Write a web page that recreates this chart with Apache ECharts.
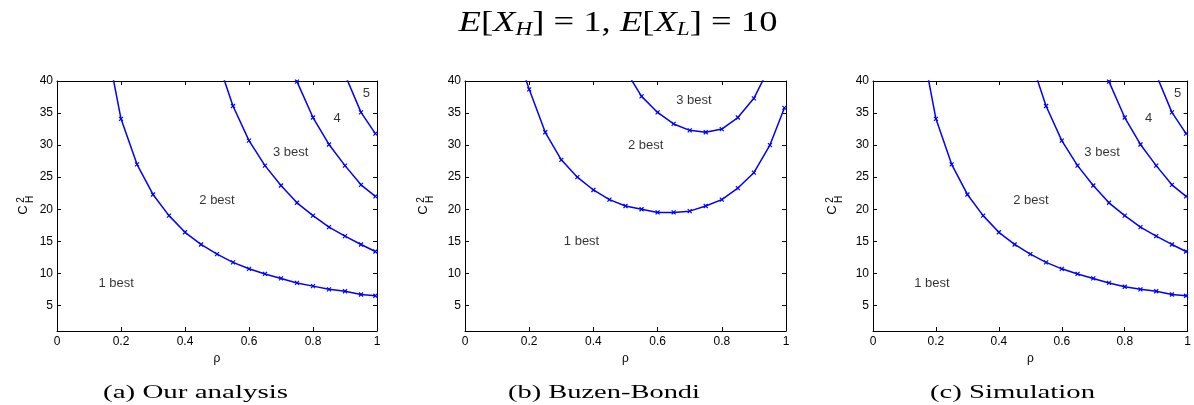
<!DOCTYPE html>
<html>
<head>
<meta charset="utf-8">
<script src="https://cdn.jsdelivr.net/npm/echarts@6/dist/echarts.min.js"></script>
<style>
  html, body { margin: 0; background: #fff; }
  #chart { width: 1194px; height: 405px; }
</style>
</head>
<body>
<div id="chart"></div>
<script>
// x ticks 0..1 step 0.2, y ticks at 5..40 (axis starts at 1)
const yTicks = [5, 10, 15, 20, 25, 30, 35, 40];

// (a) Our analysis: region boundaries (rho, C_H^2)
const aRho12 = [0.15, 0.2, 0.25, 0.3, 0.35, 0.4, 0.45, 0.5, 0.55, 0.6, 0.65, 0.7, 0.75, 0.8, 0.85, 0.9, 0.95, 0.995];
const aC12 = [47, 34.1, 27.0, 22.3, 19.0, 16.4, 14.5, 13.0, 11.7, 10.7, 9.9, 9.2, 8.5, 8.0, 7.5, 7.2, 6.7, 6.5];
const aRho23 = [0.5, 0.55, 0.6, 0.65, 0.7, 0.75, 0.8, 0.85, 0.9, 0.95, 0.995];
const aC23 = [43.5, 36.1, 30.7, 26.8, 23.7, 21.0, 19.0, 17.2, 15.8, 14.5, 13.4];
const aRho34 = [0.7, 0.75, 0.8, 0.85, 0.9, 0.95, 0.995];
const aC34 = [48, 39.9, 34.3, 30.1, 26.8, 23.8, 22.0];
const aRho45 = [0.9, 0.95, 0.995];
const aC45 = [41, 35.1, 31.8];
const aLabels = [['1 best', 0.185, 8.5], ['2 best', 0.50, 21.4], ['3 best', 0.73, 28.8], ['4', 0.875, 34.1], ['5', 0.967, 38.0]];

// (b) Buzen-Bondi
const bRho12 = [0.15, 0.2, 0.25, 0.3, 0.35, 0.4, 0.45, 0.5, 0.55, 0.6, 0.65, 0.7, 0.75, 0.8, 0.85, 0.9, 0.95, 0.995];
const bC12 = [46, 38.7, 32.0, 27.7, 25.0, 23.0, 21.5, 20.5, 20.0, 19.5, 19.5, 19.7, 20.5, 21.5, 23.3, 25.7, 30.0, 35.8];
const bRho23 = [0.5, 0.55, 0.6, 0.65, 0.7, 0.75, 0.8, 0.85, 0.9, 0.95];
const bC23 = [41.7, 37.6, 35.1, 33.3, 32.3, 32.0, 32.5, 34.3, 37.3, 42.3];
const bLabels = [['1 best', 0.363, 14.9], ['2 best', 0.563, 29.9], ['3 best', 0.713, 37.0]];

// (c) Simulation
const cRho12 = [0.15, 0.2, 0.25, 0.3, 0.35, 0.4, 0.45, 0.5, 0.55, 0.6, 0.65, 0.7, 0.75, 0.8, 0.85, 0.9, 0.95, 0.995];
const cC12 = [47, 34.1, 27.0, 22.3, 19.0, 16.4, 14.5, 13.0, 11.7, 10.7, 9.9, 9.2, 8.5, 7.9, 7.5, 7.2, 6.7, 6.5];
const cRho23 = [0.5, 0.55, 0.6, 0.65, 0.7, 0.75, 0.8, 0.85, 0.9, 0.95, 0.995];
const cC23 = [43.5, 36.1, 30.7, 26.8, 23.7, 21.0, 19.0, 17.2, 15.8, 14.5, 13.4];
const cRho34 = [0.7, 0.75, 0.8, 0.85, 0.9, 0.95, 0.995];
const cC34 = [48, 39.9, 34.3, 30.1, 26.8, 23.8, 22.0];
const cRho45 = [0.9, 0.95, 0.995];
const cC45 = [41, 35.1, 31.8];
const cLabels = [['1 best', 0.187, 8.5], ['2 best', 0.502, 21.4], ['3 best', 0.728, 28.8], ['4', 0.876, 34.1], ['5', 0.968, 38.0]];

const captions = ['(a) Our analysis', '(b) Buzen-Bondi', '(c) Simulation'];

const sans = '"Liberation Sans", Arial, sans-serif';
const serif = '"Liberation Serif", "Times New Roman", serif';
const blue = '#0000ff';

function textWidth(str, font) {
    const ctx = document.createElement('canvas').getContext('2d');
    ctx.font = font;
    return ctx.measureText(str).width;
}

function zip(xs, ys) {
    return xs.map((x, k) => [x, ys[k]]);
}

const option = {
    animation: false,
    backgroundColor: '#fff',
    grid: [],
    xAxis: [],
    yAxis: [],
    series: [],
    graphic: []
};

function addPanel(i, left, width, curves, labels) {
    option.grid.push({ left: left, top: 81, width: width, height: 250 });
    const tick = { show: true, inside: true, length: 4, lineStyle: { color: '#000', width: 1 } };
    const line = { show: true, onZero: false, lineStyle: { color: '#000', width: 1 } };
    option.xAxis.push({
        type: 'value', gridIndex: i, min: 0, max: 1, interval: 0.2, position: 'bottom',
        axisLine: line, axisTick: tick, splitLine: { show: false },
        axisLabel: { color: '#000', fontFamily: sans, fontSize: 12, margin: 5 },
        name: 'ρ', nameLocation: 'middle', nameGap: 16,
        nameTextStyle: { color: '#000', fontFamily: sans, fontSize: 12 }
    });
    option.xAxis.push({
        type: 'value', gridIndex: i, min: 0, max: 1, interval: 0.2, position: 'top',
        axisLine: line, axisTick: tick, splitLine: { show: false }, axisLabel: { show: false }
    });
    option.yAxis.push({
        type: 'value', gridIndex: i, min: 1, max: 40, position: 'left',
        axisLine: line, axisTick: Object.assign({}, tick, { customValues: yTicks }),
        splitLine: { show: false },
        axisLabel: { color: '#000', fontFamily: sans, fontSize: 12, margin: 4, customValues: yTicks }
    });
    option.yAxis.push({
        type: 'value', gridIndex: i, min: 1, max: 40, position: 'right',
        axisLine: line, axisTick: Object.assign({}, tick, { customValues: yTicks }),
        splitLine: { show: false }, axisLabel: { show: false }
    });
    curves.forEach(c => {
        option.series.push({
            type: 'line', xAxisIndex: 2 * i, yAxisIndex: 2 * i,
            data: zip(c[0], c[1]), clip: true, showAllSymbol: true,
            symbol: 'path://M0,0L10,10M10,0L0,10', symbolSize: 4,
            lineStyle: { color: blue, width: 1.5 },
            itemStyle: { color: blue, borderColor: blue, borderWidth: 1.2 },
            silent: true
        });
    });
    option.series.push({
        type: 'scatter', xAxisIndex: 2 * i, yAxisIndex: 2 * i,
        data: labels.map(l => ({ name: l[0], value: [l[1], l[2]] })),
        symbolSize: 1, itemStyle: { color: 'rgba(0,0,0,0)' }, silent: true,
        label: { show: true, position: 'inside', formatter: p => p.name, color: '#000', fontFamily: sans, fontSize: 13 }
    });
}

addPanel(0, 57, 320, [[aRho12, aC12], [aRho23, aC23], [aRho34, aC34], [aRho45, aC45]], aLabels);
addPanel(1, 465, 321, [[bRho12, bC12], [bRho23, bC23]], bLabels);
addPanel(2, 873, 321, [[cRho12, cC12], [cRho23, cC23], [cRho34, cC34], [cRho45, cC45]], cLabels);

// y axis names: C with superscript 2 and subscript H, rotated
[23, 423, 832].forEach(x => {
    option.graphic.push({
        type: 'group', x: x, y: 210, rotation: Math.PI / 2, silent: true,
        children: [
            { type: 'text', x: 0, y: 0, style: { text: 'C', fontFamily: sans, fontSize: 13, fill: '#000', align: 'center', verticalAlign: 'middle' } },
            { type: 'text', x: 10, y: -2, style: { text: '2', fontFamily: sans, fontSize: 10, fill: '#000', align: 'center', verticalAlign: 'middle' } },
            { type: 'text', x: 10.5, y: 7.5, style: { text: 'H', fontFamily: sans, fontSize: 10, fill: '#000', align: 'center', verticalAlign: 'middle' } }
        ]
    });
});

// sub-figure captions, stretched to the reference width
const capFont = '18px ' + serif;
[[195.5, 185], [604, 192], [1012.5, 165]].forEach((c, k) => {
    const w = textWidth(captions[k], capFont);
    option.graphic.push({
        type: 'text', x: c[0], y: 393, scaleX: c[1] / w, silent: true,
        style: { text: captions[k], font: capFont, fill: '#000', align: 'center', verticalAlign: 'middle' }
    });
});

// figure title
option.graphic.push({
    type: 'text', x: 618, y: 23, scaleX: 1.22, silent: true,
    style: {
        text: '{i|E}{r|[}{i|X}{s|H}{r|] = 1, }{i|E}{r|[}{i|X}{s|L}{r|] = 10}',
        align: 'center', verticalAlign: 'middle', fill: '#000',
        rich: {
            i: { fontFamily: serif, fontSize: 30, fontStyle: 'italic', lineHeight: 32, fill: '#000' },
            r: { fontFamily: serif, fontSize: 30, lineHeight: 32, fill: '#000' },
            s: { fontFamily: serif, fontSize: 19, fontStyle: 'italic', lineHeight: 18, verticalAlign: 'bottom', fill: '#000' }
        }
    }
});

const chart = echarts.init(document.getElementById('chart'));
chart.setOption(option);
window.onresize = () => chart.resize();
</script>
</body>
</html>
